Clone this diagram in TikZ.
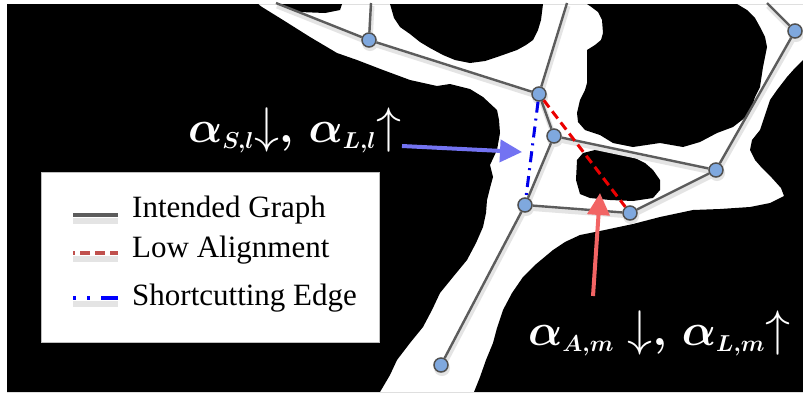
\RequirePackage{fix-cm}
\documentclass[tikz,border=0pt]{standalone}
\usepackage{amsmath,bm}
\usepackage{fontspec}
\newfontfamily\legendfont{Liberation Serif}
\usetikzlibrary{arrows.meta}
\DeclareMathSizes{45}{45}{23}{18}
\definecolor{edgegray}{RGB}{92,92,92}
\definecolor{vertfill}{RGB}{127,168,222}
\definecolor{vertedge}{RGB}{80,80,80}
\definecolor{lowred}{RGB}{235,0,0}
\definecolor{cutblue}{RGB}{0,0,235}
\definecolor{arrblue}{RGB}{115,115,242}
\definecolor{arrred}{RGB}{242,100,100}
\definecolor{legred}{RGB}{192,80,77}
\definecolor{softshadow}{RGB}{228,228,228}
\newcommand{\thinarr}[1]{{\fontsize{50}{50}\selectfont$#1$}}

\begin{document}
\begin{tikzpicture}[x=1pt,y=-1pt]
  \tikzset{
    vert/.style={circle, draw=vertedge, fill=vertfill, line width=1.5pt, minimum size=14pt, inner sep=0pt},
    vertshadow/.style={circle, fill=softshadow, minimum size=16pt, inner sep=0pt},
    graphedge/.style={draw=edgegray, line width=2.4pt},
    edgeshadow/.style={draw=softshadow, line width=5pt},
    lowalign/.style={draw=lowred, line width=3pt, dash pattern=on 9pt off 5pt},
    shortcut/.style={draw=cutblue, line width=3pt, dash pattern=on 11pt off 6pt on 2pt off 6pt},
    hintarrow/.style={line width=4pt, -{Triangle[length=22pt,width=22pt]}},
    lbl/.style={text=white, inner sep=0pt, font=\fontsize{45}{50}\selectfont},
    legtext/.style={anchor=base west, inner sep=0pt, font=\legendfont\fontsize{31}{34}\selectfont}
  }
  \useasboundingbox (0,0) rectangle (803,392);
  % binary image behind the graph: black everywhere but the vessel region
  \fill[white] (0,0) rectangle (803,392);
  \fill[black, even odd rule] (7,4) rectangle (803,392)
    (258,4) -- (803,4) -- (803,60) -- (795,68) -- (787,77) -- (777,90) -- (770,100) -- (766,112)
    -- (760,130) -- (752,140) -- (750,150) -- (755,160) -- (762,168) -- (772,178) -- (781,188) -- (784,196)
    -- (770,203) -- (750,207) -- (720,209) -- (693,210) -- (660,217) -- (633,224) -- (600,231) -- (580,235)
    -- (565,242) -- (553,250) -- (535,265) -- (523,277) -- (512,293) -- (503,310) -- (497,328) -- (493,343)
    -- (486,360) -- (480,377) -- (474,392) -- (380,392) -- (390,375) -- (397,360) -- (410,343) -- (423,327)
    -- (432,310) -- (440,293) -- (453,277) -- (467,260) -- (476,243) -- (483,227) -- (486,213) -- (487,200)
    -- (490,188) -- (493,177) -- (490,165) -- (497,150) -- (500,133) -- (499,120) -- (497,110) -- (483,97)
    -- (470,89) -- (450,84) -- (437,86) -- (410,80) -- (383,70) -- (357,60) -- (337,53) -- (310,37)
    -- (283,20) -- (262,7) -- cycle;
  \fill[black] (280,4) -- (342,4) -- (340,10) -- (325,13) -- (300,12) -- (285,8) -- cycle;
  \fill[black] (390,4) -- (543,4) -- (541,20) -- (538,30) -- (533,40) -- (526,45) -- (517,50) -- (500,56)
    -- (485,61) -- (470,63) -- (455,60) -- (443,55) -- (430,48) -- (420,42) -- (410,34) -- (400,27)
    -- (394,18) -- cycle;
  \fill[black] (587,4) -- (737,4) -- (747,10) -- (755,18) -- (760,27) -- (765,37) -- (767,47) -- (765,57)
    -- (763,67) -- (760,87) -- (755,97) -- (750,113) -- (742,120) -- (733,127) -- (717,133) -- (700,142)
    -- (683,147) -- (660,143) -- (633,147) -- (613,143) -- (600,135) -- (585,130) -- (578,122) -- (577,113)
    -- (580,100) -- (585,90) -- (587,83) -- (587,50) -- (595,45) -- (601,40) -- (603,33) -- (602,20)
    -- (598,12) -- (590,6) -- cycle;
  \fill[black] (577,160) -- (583,153) -- (595,150) -- (613,151) -- (633,157) -- (645,163) -- (653,170)
    -- (660,180) -- (660,190) -- (653,198) -- (633,201) -- (610,200) -- (590,198) -- (580,194)
    -- (576,180) -- cycle;

  % graph, soft shadows first
  \foreach \name/\x/\y in {n1/369/40, n2/539/94, n3/554/136, n4/716/170,
      n5/795/31, n6/525/205, n7/630/213, n8/441/365}
    \node[vertshadow] (\name s) at (\x+1,\y+3) {};
  \foreach \name/\x in {t1/276, t2/371, t3/567, t4/767}
    \coordinate (\name s) at (\x+1,6);
  \foreach \a/\b in {n1/t1, n1/t2, n1/n2, n2/t3, n2/n3, n3/n4, n3/n6, n6/n7, n7/n4, n4/n5, n5/t4, n6/n8}
    \draw[edgeshadow] (\a s.center) -- (\b s.center);
  \node[vert] (n1) at (369,40) {};
  \node[vert] (n2) at (539,94) {};
  \node[vert] (n3) at (554,136) {};
  \node[vert] (n4) at (716,170) {};
  \node[vert] (n5) at (795,31) {};
  \node[vert] (n6) at (525,205) {};
  \node[vert] (n7) at (630,213) {};
  \node[vert] (n8) at (441,365) {};
  \coordinate (t1) at (276,3);
  \coordinate (t2) at (371,3);
  \coordinate (t3) at (567,3);
  \coordinate (t4) at (767,3);
  \foreach \a/\b in {n1/t1, n1/t2, n1/n2, n2/t3, n2/n3, n3/n4, n3/n6, n6/n7, n7/n4, n4/n5, n5/t4, n6/n8}
    \draw[graphedge] (\a) -- (\b);
  \draw[lowalign] (n2) -- (n7);
  \draw[shortcut] (n2) -- (n6);

  % hints
  \coordinate (sfrom) at (402,146);
  \coordinate (sto) at (522,152);
  \coordinate (afrom) at (593,296);
  \coordinate (ato) at (600,193);
  \draw[hintarrow, arrblue] (sfrom) -- (sto);
  \draw[hintarrow, arrred] (afrom) -- (ato);
  \node[lbl, anchor=base west] (slabel) at (188,142)
    {$\bm{\alpha}_{\bm{S,l}}$\thinarr{\downarrow}$\bm{,}\,\bm{\alpha}_{\bm{L,l}}$\thinarr{\uparrow}};
  \node[lbl, anchor=base west] (alabel) at (528,345)
    {$\bm{\alpha}_{\bm{A,m}}$\ \thinarr{\downarrow}$\bm{,}\,\bm{\alpha}_{\bm{L,m}}$\thinarr{\uparrow}};

  % legend
  \node[draw=black!25, fill=white, anchor=north west, minimum width=338pt, minimum height=170pt, inner sep=0pt] (legend) at (41,172) {};
  \draw[softshadow, line width=6pt] (73,221) -- (118,221);
  \draw[edgegray, line width=4pt] (73,215) -- (118,215);
  \draw[softshadow, line width=6pt] (73,259) -- (118,259);
  \draw[legred, line width=4pt, dash pattern=on 10pt off 5pt, dash phase=8pt] (73,253) -- (118,253);
  \draw[softshadow, line width=6pt] (73,304) -- (118,304);
  \draw[blue, line width=4pt, dash pattern=on 3pt off 11pt on 3pt off 11pt on 17pt off 0pt] (73,298) -- (118,298);
  \node[legtext] (lgraph) at (132,217) {Intended Graph};
  \node[legtext] (llow) at (132,257) {Low Alignment};
  \node[legtext] (lcut) at (132,305) {Shortcutting Edge};
\end{tikzpicture}
\end{document}
